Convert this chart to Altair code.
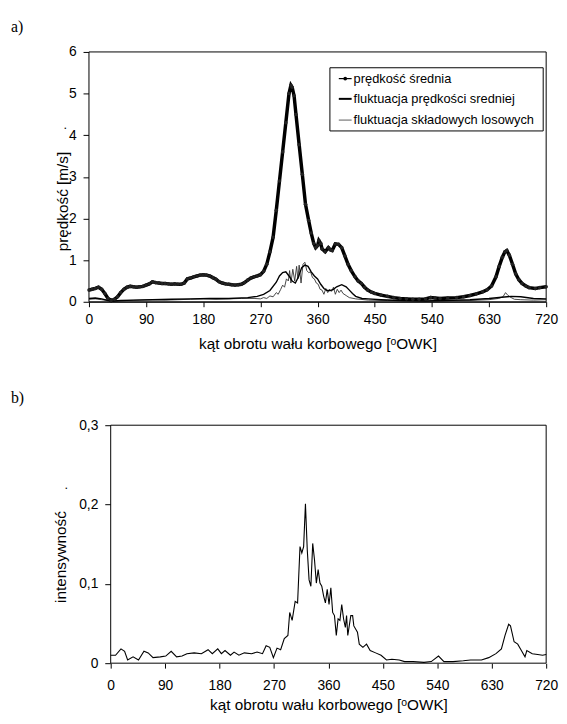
import altair as alt
import pandas as pd

FONT = "Liberation Sans, Arial, Helvetica, sans-serif"
SERIF = "Liberation Serif, Times New Roman, serif"

panel_labels = ["a)", "b)"]
series_names = ["prędkość średnia", "fluktuacja prędkości sredniej", "fluktuacja składowych losowych"]
x_title = "kąt obrotu wału korbowego [ᵒOWK]"
y_title_a = "prędkość [m/s]"
y_title_b = "intensywność"
x_ticks = [0, 90, 180, 270, 360, 450, 540, 630, 720]
y_ticks_a = [0, 1, 2, 3, 4, 5, 6]
y_ticks_b = [0, 0.1, 0.2, 0.3]

# prędkość średnia
mean_angle = [0, 5, 10, 15, 20, 25, 30, 35, 40, 45, 50, 55, 60, 65, 70, 75, 80, 85, 90, 95,
              100, 105, 110, 115, 120, 125, 130, 135, 140, 145, 150, 155, 160, 165, 170, 175,
              180, 185, 190, 195, 200, 205, 210, 215, 220, 225, 230, 235, 240, 245, 250, 255,
              260, 265, 270, 275, 280, 285, 290, 295, 300, 305, 310, 315, 318, 320, 323, 326,
              331, 336, 341, 346, 350, 354, 357, 360, 362, 365, 367, 372, 377, 380, 383, 388,
              393, 398, 403, 408, 413, 419, 424, 429, 434, 439, 445, 450, 460, 470, 480, 490,
              500, 510, 520, 530, 538, 545, 553, 565, 579, 590, 600, 610, 620, 627, 634, 641,
              646, 651, 655, 658, 662, 667, 672, 677, 682, 688, 693, 703, 710, 720]
mean_speed = [0.28, 0.30, 0.32, 0.35, 0.30, 0.20, 0.08, 0.03, 0.06, 0.12, 0.22, 0.30, 0.35, 0.37,
              0.36, 0.35, 0.36, 0.37, 0.40, 0.43, 0.48, 0.46, 0.45, 0.44, 0.44, 0.43, 0.42, 0.43,
              0.42, 0.42, 0.45, 0.55, 0.57, 0.60, 0.62, 0.64, 0.65, 0.64, 0.62, 0.58, 0.54, 0.48,
              0.45, 0.43, 0.42, 0.41, 0.40, 0.41, 0.42, 0.46, 0.52, 0.57, 0.60, 0.62, 0.65, 0.73,
              0.90, 1.20, 1.55, 2.20, 2.90, 3.60, 4.30, 5.00, 5.20, 5.15, 4.95, 4.50, 3.77, 3.06,
              2.34, 1.95, 1.65, 1.40, 1.30, 1.35, 1.47, 1.40, 1.27, 1.20, 1.30, 1.25, 1.23, 1.39,
              1.38, 1.30, 1.10, 0.90, 0.75, 0.60, 0.50, 0.44, 0.35, 0.28, 0.23, 0.20, 0.16, 0.13,
              0.10, 0.08, 0.07, 0.06, 0.06, 0.07, 0.10, 0.09, 0.08, 0.09, 0.10, 0.12, 0.15, 0.19,
              0.24, 0.29, 0.38, 0.60, 0.85, 1.07, 1.20, 1.23, 1.12, 0.90, 0.67, 0.53, 0.44, 0.38,
              0.34, 0.32, 0.34, 0.36]

# fluktuacja prędkości sredniej
fm_angle = [0, 10, 20, 30, 40, 50, 70, 100, 130, 160, 190, 220, 250, 265, 275, 285, 295, 300,
            305, 310, 315, 320, 325, 330, 335, 340, 345, 350, 355, 360, 365, 370, 375, 380, 385,
            390, 398, 405, 410, 415, 420, 430, 440, 460, 490, 530, 560, 600, 630, 650, 665, 680,
            700, 720]
fm_value = [0.08, 0.09, 0.07, 0.03, 0.02, 0.03, 0.04, 0.05, 0.06, 0.07, 0.08, 0.08, 0.10, 0.13,
            0.18, 0.27, 0.47, 0.62, 0.70, 0.72, 0.62, 0.50, 0.45, 0.60, 0.82, 0.88, 0.85, 0.72,
            0.62, 0.55, 0.42, 0.32, 0.27, 0.27, 0.30, 0.36, 0.41, 0.36, 0.28, 0.20, 0.13, 0.08,
            0.07, 0.05, 0.03, 0.02, 0.03, 0.05, 0.08, 0.11, 0.13, 0.12, 0.08, 0.07]

# fluktuacja składowych losowych
fr_angle = [0, 10, 20, 30, 40, 60, 80, 100, 120, 140, 160, 180, 200, 220, 240, 260, 270, 275,
            280, 285, 290, 295, 298, 302, 305, 308, 311, 314, 316, 318, 321, 324, 327, 329, 331,
            334, 337, 340, 343, 346, 349, 352, 355, 358, 361, 364, 367, 370, 373, 376, 379, 382,
            385, 388, 391, 394, 397, 400, 405, 410, 420, 440, 470, 520, 560, 600, 630, 645, 652,
            656, 660, 665, 670, 680, 700, 720]
fr_value = [0.06, 0.07, 0.05, 0.03, 0.02, 0.03, 0.04, 0.05, 0.04, 0.05, 0.06, 0.07, 0.06, 0.07,
            0.08, 0.08, 0.07, 0.10, 0.08, 0.14, 0.12, 0.22, 0.18, 0.30, 0.40, 0.35, 0.55, 0.50,
            0.75, 0.45, 0.78, 0.50, 0.85, 0.55, 0.88, 0.45, 0.90, 0.95, 0.75, 0.70, 0.72, 0.58,
            0.55, 0.45, 0.42, 0.30, 0.28, 0.18, 0.32, 0.22, 0.30, 0.25, 0.35, 0.18, 0.30, 0.22,
            0.28, 0.20, 0.15, 0.10, 0.07, 0.04, 0.03, 0.02, 0.02, 0.03, 0.05, 0.08, 0.12, 0.22,
            0.15, 0.10, 0.06, 0.05, 0.04, 0.05]

# intensywność
int_angle = [0, 8, 17, 23, 28, 37, 46, 55, 62, 70, 82, 91, 100, 109, 118, 126, 138, 150, 161,
             168, 177, 183, 189, 198, 204, 212, 221, 233, 242, 251, 257, 263, 269, 275, 281, 287,
             293, 296, 300, 305, 309, 313, 316, 319, 322, 325, 328, 331, 334, 337, 340, 343, 346,
             349, 352, 355, 358, 361, 364, 367, 370, 373, 376, 379, 382, 385, 388, 390, 392, 397,
             400, 402, 408, 411, 417, 423, 429, 438, 447, 456, 465, 477, 486, 500, 518, 530, 542,
             551, 566, 583, 595, 613, 625, 637, 646, 652, 658, 661, 667, 673, 679, 685, 688, 697,
             706, 714, 720]
intensity = [0.010, 0.010, 0.018, 0.015, 0.004, 0.008, 0.004, 0.015, 0.013, 0.007, 0.008, 0.009,
             0.015, 0.008, 0.009, 0.012, 0.013, 0.012, 0.017, 0.012, 0.018, 0.012, 0.016, 0.010,
             0.014, 0.010, 0.013, 0.012, 0.014, 0.012, 0.022, 0.020, 0.007, 0.019, 0.017, 0.031,
             0.035, 0.064, 0.054, 0.078, 0.076, 0.147, 0.139, 0.147, 0.201, 0.143, 0.105, 0.097,
             0.151, 0.130, 0.101, 0.118, 0.101, 0.097, 0.085, 0.076, 0.093, 0.074, 0.095, 0.064,
             0.060, 0.035, 0.056, 0.054, 0.074, 0.056, 0.045, 0.060, 0.035, 0.060, 0.060, 0.047,
             0.039, 0.024, 0.020, 0.024, 0.016, 0.013, 0.010, 0.004, 0.005, 0.004, 0.002, 0.002,
             0.001, 0.002, 0.009, 0.002, 0.002, 0.003, 0.004, 0.004, 0.007, 0.012, 0.018, 0.035,
             0.049, 0.047, 0.027, 0.024, 0.016, 0.008, 0.016, 0.012, 0.011, 0.010, 0.011]

W = 463
HA = 253
HB = 241
OFF_B = 22


def one():
    return pd.DataFrame({"k": [0]})


axis_common = dict(
    labelFont=FONT, labelFontSize=14, labelColor="black", labelFlush=False,
    titleFont=FONT, titleFontSize=15.5, titleFontWeight="normal", titleColor="black",
    tickColor="black", domainColor="black", grid=False,
)

# ---------- panel a ----------
xs_a = alt.Scale(domain=[0, 720], nice=False, zero=False)
ys_a = alt.Scale(domain=[0, 6], nice=False)
xax_a = alt.Axis(values=x_ticks, title=x_title, tickSize=5, labelPadding=6,
                 titleY=42, titleBaseline="middle", format="d", **axis_common)
yax_a = alt.Axis(values=y_ticks_a, title=y_title_a, tickSize=6, labelPadding=7, format="d",
                 titleX=-27, titleY=151, titleAngle=270, titleAlign="center",
                 titleBaseline="middle", **axis_common)

df_mean = pd.DataFrame({"angle": mean_angle, "v": mean_speed})
df_fm = pd.DataFrame({"angle": fm_angle, "v": fm_value})
df_fr = pd.DataFrame({"angle": fr_angle, "v": fr_value})

frame_a = alt.Chart(one()).mark_rect(fill="white", stroke="black", strokeWidth=1).encode(
    x=alt.value(0), x2=alt.value(W), y=alt.value(0), y2=alt.value(HA))

enc_a = dict(x=alt.X("angle:Q", scale=xs_a, axis=xax_a),
             y=alt.Y("v:Q", scale=ys_a, axis=yax_a))

line_fr = alt.Chart(df_fr).mark_line(color="#333333", strokeWidth=0.9).encode(**enc_a)
line_fm = alt.Chart(df_fm).mark_line(color="black", strokeWidth=1.4).encode(**enc_a)
line_mean = alt.Chart(df_mean).mark_line(
    color="black", strokeWidth=3.5,
    point=alt.OverlayMarkDef(filled=True, size=13, color="#222222")).encode(**enc_a)

leg_box = alt.Chart(one()).mark_rect(fill="white", stroke="black", strokeWidth=1).encode(
    x=alt.value(244), x2=alt.value(460), y=alt.value(16), y2=alt.value(80))
leg_rows = [27, 47.5, 69]
leg_colors = ["black", "black", "#777777"]
leg_widths = [1.2, 2, 1.2]
leg_layers = [leg_box]
for i in range(3):
    leg_layers.append(alt.Chart(one()).mark_rule(color=leg_colors[i], strokeWidth=leg_widths[i]).encode(
        x=alt.value(253), x2=alt.value(266), y=alt.value(leg_rows[i])))
    leg_layers.append(alt.Chart(one()).mark_text(align="left", baseline="middle", font=FONT,
                                                 fontSize=13, color="black").encode(
        x=alt.value(268), y=alt.value(leg_rows[i]), text=alt.value(series_names[i])))
leg_layers.append(alt.Chart(one()).mark_point(filled=True, size=14, color="black", opacity=1).encode(
    x=alt.value(259.5), y=alt.value(leg_rows[0])))

label_a = alt.Chart(one()).mark_text(align="left", baseline="alphabetic", font=SERIF,
                                     fontSize=16, color="black").encode(
    x=alt.value(-79), y=alt.value(-20), text=alt.value(panel_labels[0]))
dot_a = alt.Chart(one()).mark_text(font=FONT, fontSize=13, color="black").encode(
    x=alt.value(-24), y=alt.value(74), text=alt.value("."))

top = alt.layer(frame_a, line_fr, line_fm, line_mean, *leg_layers, label_a, dot_a).properties(
    width=W, height=HA)

# ---------- panel b ----------
xs_b = alt.Scale(domain=[0, 720], range=[OFF_B, W], nice=False, zero=False)
ys_b = alt.Scale(domain=[0, 0.3], nice=False)
xax_b = alt.Axis(values=x_ticks, title=x_title, tickSize=5, labelPadding=11, domain=False,
                 titleY=42, titleBaseline="middle", format="d", **axis_common)
yax_b = alt.Axis(values=y_ticks_b, title=y_title_b, tickSize=6, labelPadding=7, domain=False,
                 offset=-OFF_B,
                 labelExpr="datum.value == 0 ? '0' : replace(format(datum.value, '.1f'), '.', ',')",
                 titleX=-51, titleY=133, titleAngle=270, titleAlign="center",
                 titleBaseline="middle", **axis_common)

df_int = pd.DataFrame({"angle": int_angle, "v": intensity})
frame_b = alt.Chart(one()).mark_rect(fill="white", stroke="black", strokeWidth=1).encode(
    x=alt.value(OFF_B), x2=alt.value(W), y=alt.value(0), y2=alt.value(HB))
line_int = alt.Chart(df_int).mark_line(color="black", strokeWidth=1.1).encode(
    x=alt.X("angle:Q", scale=xs_b, axis=xax_b),
    y=alt.Y("v:Q", scale=ys_b, axis=yax_b))
label_b = alt.Chart(one()).mark_text(align="left", baseline="alphabetic", font=SERIF,
                                     fontSize=16, color="black").encode(
    x=alt.value(-79), y=alt.value(-22), text=alt.value(panel_labels[1]))
dot_b = alt.Chart(one()).mark_text(font=FONT, fontSize=13, color="black").encode(
    x=alt.value(-23), y=alt.value(61), text=alt.value("."))

bottom = alt.layer(frame_b, line_int, label_b, dot_b).properties(width=W, height=HB)

chart = alt.vconcat(top, bottom, spacing=38).properties(
    padding={"left": 2, "top": 6, "right": 0, "bottom": 0},
    background="white",
).configure_view(stroke="transparent")

chart.save("out.html", embed_options={"renderer": "svg", "actions": False})
